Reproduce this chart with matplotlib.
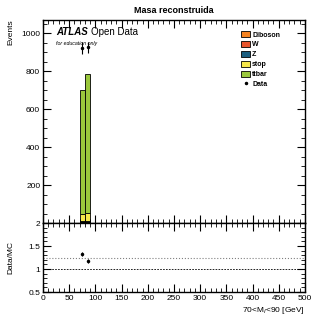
import numpy as np
import matplotlib.pyplot as plt
from matplotlib.ticker import MultipleLocator
from matplotlib.patches import Patch
from matplotlib.lines import Line2D

plt.rcParams['font.family'] = ['Liberation Sans', 'DejaVu Sans']

# binning (GeV)
bin_lo = [70, 80]

# stacked backgrounds, bottom to top
samples = ['Diboson', 'W', 'Z', 'stop', 'ttbar']
colors = ['#f58220', '#e8552d', '#1b5e80', '#f5e64a', '#9bc83c']
diboson = [3, 3]
w_jets = [4, 4]
z_jets = [5, 5]
stop = [36, 40]
ttbar = [650, 733]

data = [921, 925]
data_err = [30, 30]
ratio_ref = 1.25

fig = plt.figure(figsize=(3.14, 3.15), dpi=100)
ax = fig.add_axes([0.137, 0.292, 0.834, 0.645])
rax = fig.add_axes([0.137, 0.073, 0.834, 0.219], sharex=ax)

bottom = np.zeros(len(bin_lo))
for vals, col in zip([diboson, w_jets, z_jets, stop, ttbar], colors):
    ax.bar(bin_lo, vals, width=10, bottom=bottom, align='edge',
           color=col, edgecolor='black', linewidth=0.6)
    bottom += np.array(vals)
mc_total = bottom

centers = np.array(bin_lo) + 5
ax.errorbar(centers, data, yerr=data_err, fmt='o', color='black',
            markersize=1.5, elinewidth=0.8, capsize=0)

ax.set_xlim(0, 500)
ax.set_ylim(0, 1070)
ax.set_ylabel('Events', fontsize=6, loc='top')
ax.set_title('Masa reconstruida', fontsize=6.5, fontweight='bold', pad=5)
ax.yaxis.set_major_locator(MultipleLocator(200))
ax.yaxis.set_minor_locator(MultipleLocator(50))
ax.xaxis.set_major_locator(MultipleLocator(50))
ax.xaxis.set_minor_locator(MultipleLocator(10))
ax.tick_params(which='both', direction='in', top=True, right=True,
               labelsize=6, pad=2)
ax.tick_params(which='major', length=6, width=0.8)
ax.tick_params(which='minor', length=3, width=0.6)
ax.tick_params(axis='x', labelbottom=False)
ax.set_yticks([200, 400, 600, 800, 1000])

ax.text(0.05, 0.94, 'ATLAS', transform=ax.transAxes, fontsize=7,
        fontweight='bold', fontstyle='italic', va='center')
ax.text(0.185, 0.94, 'Open Data', transform=ax.transAxes, fontsize=7, va='center')
ax.text(0.05, 0.885, 'for education only', transform=ax.transAxes,
        fontsize=3.8, fontstyle='italic', va='center')

handles = [Patch(facecolor=c, edgecolor='black', linewidth=0.6, label=s)
           for s, c in zip(samples, colors)]
handles.append(Line2D([], [], marker='o', color='black', linestyle='none',
                      markersize=1.5, label='Data'))
leg = ax.legend(handles=handles, loc='upper left', bbox_to_anchor=(0.756, 0.945),
                frameon=False, fontsize=5, handlelength=1.3, handleheight=1.0,
                handletextpad=0.3, labelspacing=0.35, borderaxespad=0,
                borderpad=0)
for t in leg.get_texts():
    t.set_fontweight('bold')

ratio = np.array(data) / mc_total
ratio_err = np.array(data_err) / mc_total
rax.errorbar(centers, ratio, yerr=ratio_err, fmt='o', color='black',
             markersize=1.5, elinewidth=0.8, capsize=0)
rax.axhline(1, color='black', linestyle='--', linewidth=0.6, dashes=(2, 1.5))
rax.axhline(ratio_ref, color='gray', linestyle=':', linewidth=0.8)
rax.set_ylim(0.5, 2)
rax.set_yticks([0.5, 1, 1.5, 2])
rax.set_yticklabels(['0.5', '1', '1.5', '2'])
rax.yaxis.set_minor_locator(MultipleLocator(0.1))
rax.set_ylabel('Data/MC', fontsize=6)
rax.set_xlabel(r'70<M$_{l}$<90 [GeV]', fontsize=6, loc='right', labelpad=2)
rax.tick_params(which='both', direction='in', top=True, right=True,
                labelsize=6, pad=2)
rax.tick_params(which='major', length=6, width=0.8)
rax.tick_params(which='minor', length=3, width=0.6)

for a in (ax, rax):
    for s in a.spines.values():
        s.set_linewidth(1.0)

ax.yaxis.set_label_coords(-0.11, 1.0)
rax.yaxis.set_label_coords(-0.11, 0.5)

fig.savefig('out.png', dpi=100)
